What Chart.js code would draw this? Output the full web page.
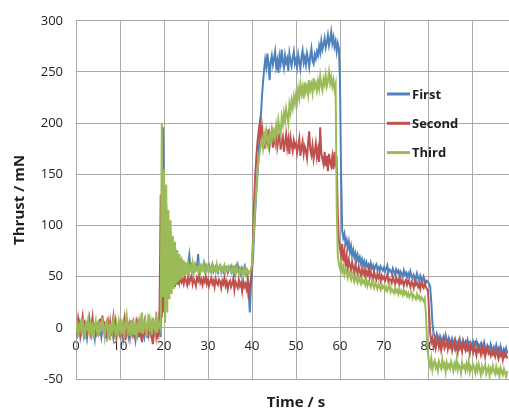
<!DOCTYPE html>
<html><head><meta charset="utf-8">
<script src="https://cdn.jsdelivr.net/npm/chart.js@4"></script>
<style>
html,body{margin:0;padding:0;background:#fff;overflow:hidden;width:509px;height:412px}
#wrap{width:516px;height:412px}
</style></head>
<body><div id="wrap"><canvas id="c" width="516" height="412"></canvas></div>
<script>
// Time / s
const time = [
0,0.25,0.5,0.75,1,1.25,1.5,1.75,2,2.25,2.5,2.75,3,3.25,3.5,3.75,4,4.25,4.5,4.75,
5,5.25,5.5,5.75,6,6.25,6.5,6.75,7,7.25,7.5,7.75,8,8.25,8.5,8.75,9,9.25,9.5,9.75,
10,10.25,10.5,10.75,11,11.25,11.5,11.75,12,12.25,12.5,12.75,13,13.25,13.5,13.75,14,14.25,14.5,14.75,
15,15.25,15.5,15.75,16,16.25,16.5,16.75,17,17.25,17.5,17.75,18,18.25,18.5,18.75,19,19.25,19.5,19.75,
20,20.25,20.5,20.75,21,21.25,21.5,21.75,22,22.25,22.5,22.75,23,23.25,23.5,23.75,24,24.25,24.5,24.75,
25,25.25,25.5,25.75,26,26.25,26.5,26.75,27,27.25,27.5,27.75,28,28.25,28.5,28.75,29,29.25,29.5,29.75,
30,30.25,30.5,30.75,31,31.25,31.5,31.75,32,32.25,32.5,32.75,33,33.25,33.5,33.75,34,34.25,34.5,34.75,
35,35.25,35.5,35.75,36,36.25,36.5,36.75,37,37.25,37.5,37.75,38,38.25,38.5,38.75,39,39.25,39.5,39.75,
40,40.25,40.5,40.75,41,41.25,41.5,41.75,42,42.25,42.5,42.75,43,43.25,43.5,43.75,44,44.25,44.5,44.75,
45,45.25,45.5,45.75,46,46.25,46.5,46.75,47,47.25,47.5,47.75,48,48.25,48.5,48.75,49,49.25,49.5,49.75,
50,50.25,50.5,50.75,51,51.25,51.5,51.75,52,52.25,52.5,52.75,53,53.25,53.5,53.75,54,54.25,54.5,54.75,
55,55.25,55.5,55.75,56,56.25,56.5,56.75,57,57.25,57.5,57.75,58,58.25,58.5,58.75,59,59.25,59.5,59.75,
60,60.25,60.5,60.75,61,61.25,61.5,61.75,62,62.25,62.5,62.75,63,63.25,63.5,63.75,64,64.25,64.5,64.75,
65,65.25,65.5,65.75,66,66.25,66.5,66.75,67,67.25,67.5,67.75,68,68.25,68.5,68.75,69,69.25,69.5,69.75,
70,70.25,70.5,70.75,71,71.25,71.5,71.75,72,72.25,72.5,72.75,73,73.25,73.5,73.75,74,74.25,74.5,74.75,
75,75.25,75.5,75.75,76,76.25,76.5,76.75,77,77.25,77.5,77.75,78,78.25,78.5,78.75,79,79.25,79.5,79.75,
80,80.25,80.5,80.75,81,81.25,81.5,81.75,82,82.25,82.5,82.75,83,83.25,83.5,83.75,84,84.25,84.5,84.75,
85,85.25,85.5,85.75,86,86.25,86.5,86.75,87,87.25,87.5,87.75,88,88.25,88.5,88.75,89,89.25,89.5,89.75,
90,90.25,90.5,90.75,91,91.25,91.5,91.75,92,92.25,92.5,92.75,93,93.25,93.5,93.75,94,94.25,94.5,94.75,
95,95.25,95.5,95.75,96,96.25,96.5,96.75,97,97.25,97.5,97.75,98];

// Thrust / mN
const first = [
2,-6,-1,4,-9,-3,1,-7,3,-2,-10,0,5,-5,-8,2,-4,-11,1,-3,
-6,3,-2,-9,0,4,-5,-1,-8,2,-4,-7,1,-3,-10,-2,3,-6,0,-4,
-8,-1,2,-11,-4,1,-6,-2,-9,3,-3,-7,0,-5,-12,-1,2,-6,-3,-8,
0,-4,-9,2,-5,-1,-7,3,-3,-10,-2,1,-6,-4,-8,-1,-3,-9,40,196,
150,20,120,30,100,40,90,45,80,48,75,52,70,54,66,56,64,57,62,58,
60,57,63,71,58,61,56,59,62,57,60,72,58,55,61,59,57,62,56,60,
58,61,56,59,62,55,58,60,57,54,59,61,56,58,55,60,57,59,54,58,
57,60,55,58,53,59,56,61,54,57,52,58,55,59,53,56,50,35,15,40,
55,70,95,115,135,150,170,190,205,225,240,252,262,255,268,258,242,260,266,257,
263,270,255,261,249,265,258,272,260,254,266,259,263,251,268,261,256,264,270,258,
262,255,267,260,253,265,271,259,264,257,268,262,255,266,273,261,258,267,263,270,
266,275,269,280,272,277,283,274,279,286,276,281,289,278,284,275,280,270,278,273,
240,150,95,88,92,82,86,78,84,74,80,71,76,69,73,66,71,65,69,63,
67,61,65,59,64,60,62,57,63,58,61,56,60,62,57,59,55,60,58,56,
59,55,58,61,54,57,56,53,58,55,52,57,54,56,51,55,53,50,56,52,
54,50,53,49,55,51,48,52,50,47,53,49,46,51,48,45,50,47,44,46,
45,43,40,25,5,-5,-8,-12,-6,-10,-14,-8,-11,-15,-9,-13,-7,-12,-16,-10,
-13,-17,-11,-15,-19,-12,-16,-14,-18,-11,-15,-20,-13,-17,-14,-19,-12,-16,-21,-15,
-18,-14,-20,-16,-13,-19,-22,-17,-15,-21,-18,-14,-20,-23,-17,-19,-22,-16,-20,-24,
-19,-22,-17,-23,-20,-25,-18,-22,-26,-21,-24,-20,-25];

const second = [
6,-3,9,1,-6,4,11,-2,7,-8,3,0,8,-5,2,10,-4,5,-9,1,
4,-6,9,-1,12,-3,6,-10,2,7,-4,5,-8,3,11,-2,6,-7,1,4,
-3,8,-6,2,9,-12,-4,5,0,-8,7,-2,4,-10,1,6,-5,3,-9,2,
-14,-2,5,-7,3,-10,1,6,-4,2,-16,-3,4,-8,1,-5,20,130,10,95,
15,85,25,75,30,68,35,62,38,57,40,54,42,52,44,50,45,48,43,49,
46,42,50,44,47,51,43,48,45,41,49,46,52,44,47,42,48,45,50,43,
47,41,45,49,43,46,40,48,44,42,47,45,39,46,43,49,41,45,38,44,
46,40,43,48,37,45,42,39,47,41,44,36,46,40,43,38,45,28,42,47,
60,90,125,150,168,182,192,200,188,196,180,190,175,188,182,194,178,186,191,176,
188,181,193,177,185,190,174,183,187,172,181,189,176,184,170,186,179,173,183,177,
180,171,178,185,168,176,182,170,177,173,166,181,192,174,169,178,165,172,180,167,
174,162,196,170,165,160,172,158,168,153,170,162,158,167,155,172,160,163,110,85,
78,70,82,65,74,62,70,58,66,61,56,64,59,54,62,57,53,60,55,51,
58,53,56,50,55,52,57,49,54,51,48,55,50,47,53,49,52,46,51,48,
50,46,49,52,45,48,47,44,50,46,43,49,45,47,42,48,44,46,41,45,
47,42,46,44,40,45,43,39,46,42,44,40,43,38,45,41,39,44,40,38,
36,15,-5,-14,-10,-18,-12,-20,-15,-11,-19,-14,-22,-16,-12,-20,-17,-13,-21,-16,
-19,-14,-22,-17,-13,-21,-18,-24,-15,-20,-17,-23,-14,-19,-22,-16,-21,-18,-25,-17,
-20,-24,-18,-22,-27,-19,-23,-21,-26,-18,-24,-20,-28,-22,-19,-25,-23,-27,-21,-26,
-24,-28,-22,-26,-30,-23,-27,-25,-31,-24,-28,-26,-30];

const third = [
-4,7,-9,2,5,-6,9,-2,-11,4,0,8,-7,3,-5,6,-10,1,7,-3,
2,-8,6,-4,10,-1,-9,4,7,-6,1,-12,5,-3,8,0,-7,3,-5,6,
-2,9,-6,3,-10,5,12,-4,1,-8,6,-3,9,-7,2,-11,4,-1,7,-5,
15,-6,3,8,-9,2,14,-4,5,-7,10,1,-3,16,-5,6,2,-2,200,30,
155,5,140,15,115,28,105,33,90,38,84,42,76,45,72,47,68,49,66,51,
64,52,62,54,60,56,63,53,61,57,59,55,62,54,60,57,63,55,58,61,
56,60,58,54,61,57,59,55,62,56,58,60,54,59,57,61,55,58,56,60,
57,54,59,55,58,52,60,56,53,58,55,51,57,54,59,52,56,53,55,57,
62,80,100,120,138,152,164,172,178,184,176,189,181,192,184,178,190,183,194,186,
192,185,198,190,203,195,188,206,199,210,202,214,207,200,218,211,222,215,226,219,
228,221,233,225,238,229,235,224,240,231,236,228,242,233,238,230,244,235,239,232,
241,234,246,237,232,243,238,247,236,241,250,239,245,236,242,233,238,120,70,62,
58,64,55,60,52,57,54,49,55,51,47,53,49,45,51,47,44,50,46,43,
48,44,46,42,47,41,45,43,40,46,42,39,44,41,38,43,40,37,42,39,
41,37,40,36,39,42,35,38,36,34,39,35,37,33,38,34,36,32,37,33,
35,31,34,30,33,35,29,32,30,28,33,29,31,27,30,28,26,29,15,-10,
-25,-34,-38,-30,-41,-35,-32,-39,-36,-42,-33,-37,-40,-31,-38,-35,-43,-34,-39,-36,
-40,-33,-37,-42,-35,-39,-31,-41,-36,-38,-44,-34,-39,-37,-42,-35,-40,-33,-43,-38,
-41,-36,-39,-44,-37,-42,-35,-40,-46,-38,-43,-39,-36,-45,-41,-38,-47,-40,-43,-37,
-42,-45,-38,-44,-41,-47,-39,-43,-46,-40,-44,-48,-42];

const seriesNames = ['First', 'Second', 'Third'];
const seriesColors = ['#4F81BD', '#C0504D', '#9BBB59'];
const xTickValues = [0, 10, 20, 30, 40, 50, 60, 70, 80, 90];
const yTickValues = [-50, 0, 50, 100, 150, 200, 250, 300];
const xTitle = 'Time / s';
const yTitle = 'Thrust / mN';

const FONT = "'Open Sans', 'Liberation Sans', sans-serif";
const GRID = '#a9a9a9';
const TEXT = '#1e1e1e';

const toPoints = arr => arr.map((v, i) => ({ x: time[i], y: v }));

const legendPlugin = {
  id: 'sideLegend',
  afterDraw(chart) {
    const ctx = chart.ctx;
    ctx.save();
    chart.data.datasets.forEach((ds, i) => {
      const y = 94 + i * 29.3;
      ctx.strokeStyle = ds.borderColor;
      ctx.lineWidth = 3;
      ctx.beginPath();
      ctx.moveTo(387, y);
      ctx.lineTo(410, y);
      ctx.stroke();
      ctx.fillStyle = TEXT;
      ctx.font = "bold 13px " + FONT;
      ctx.textBaseline = 'middle';
      ctx.textAlign = 'left';
      ctx.fillText(ds.label, 412, y + 1);
    });
    ctx.restore();
  }
};

new Chart(document.getElementById('c'), {
  type: 'line',
  data: {
    datasets: [first, second, third].map((arr, i) => ({
      label: seriesNames[i],
      data: toPoints(arr),
      borderColor: seriesColors[i],
      backgroundColor: seriesColors[i],
      borderWidth: 2,
      pointRadius: 0,
      tension: 0,
      fill: false,
      order: 3 - i
    }))
  },
  options: {
    responsive: false,
    animation: false,
    devicePixelRatio: 1,
    layout: { padding: { top: 18, right: 0, bottom: 0, left: 0 } },
    plugins: { legend: { display: false }, tooltip: { enabled: false } },
    scales: {
      x: {
        type: 'linear',
        position: { y: 0 },
        min: 0, max: 100,
        afterBuildTicks: s => { s.ticks = xTickValues.map(v => ({ value: v })); },
        ticks: { font: { family: FONT, size: 13 }, color: TEXT, padding: 11, maxRotation: 0, autoSkip: false },
        grid: { color: GRID, lineWidth: 1, drawTicks: false },
        border: { color: GRID, width: 1 }
      },
      x2: {
        type: 'linear',
        position: 'bottom',
        min: 0, max: 100,
        afterFit: s => { s.height = 33; },
        ticks: { display: false },
        grid: { display: false, drawTicks: false },
        border: { display: false },
        title: { display: true, text: xTitle, color: TEXT, font: { family: FONT, size: 15, weight: 'bold' }, padding: { top: 15, bottom: 0 } }
      },
      y: {
        type: 'linear',
        min: -50, max: 300,
        afterBuildTicks: s => { s.ticks = yTickValues.map(v => ({ value: v })); },
        afterFit: s => { s.width = 76; },
        ticks: { font: { family: FONT, size: 13 }, color: TEXT, padding: 13 },
        grid: { color: GRID, lineWidth: 1, drawTicks: false },
        border: { color: GRID, width: 1 },
        title: { display: true, text: yTitle, color: TEXT, font: { family: FONT, size: 15, weight: 'bold' }, padding: { top: 11, bottom: 0 } }
      }
    }
  },
  plugins: [legendPlugin]
});
</script>
</body></html>
